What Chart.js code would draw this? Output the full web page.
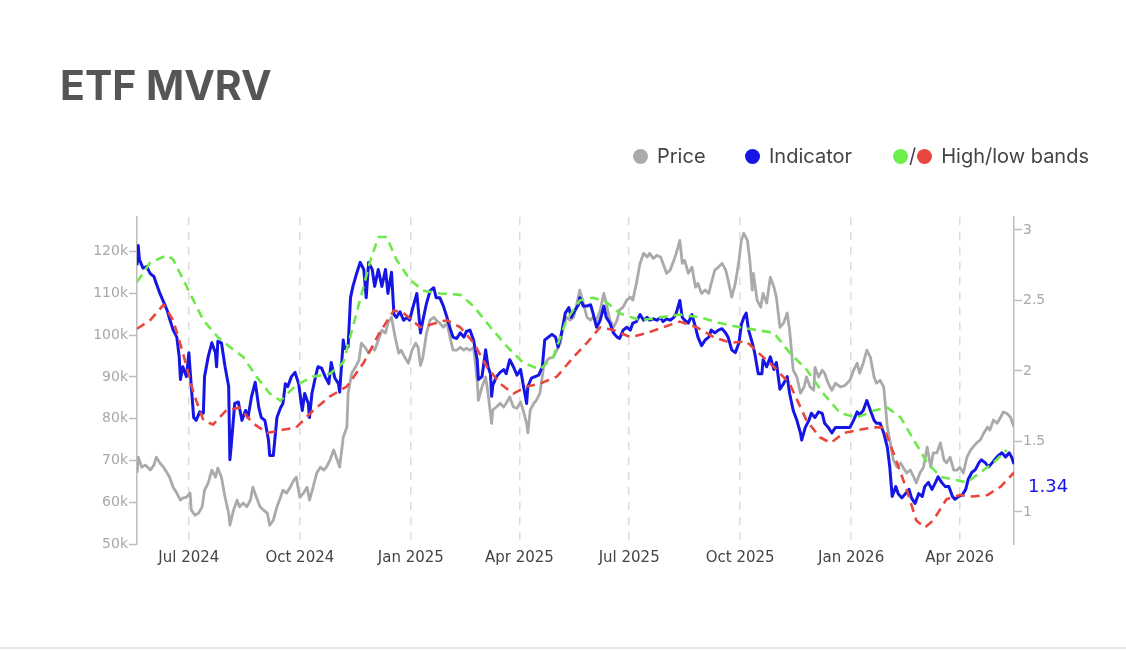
<!DOCTYPE html>
<html>
<head>
<meta charset="utf-8">
<title>ETF MVRV</title>
<script src="https://cdn.jsdelivr.net/npm/chart.js@4.4.1/dist/chart.umd.min.js"></script>
<style>
  html, body { margin: 0; padding: 0; background: #fff; }
  #wrap { position: relative; width: 1126px; height: 650px; overflow: hidden; background: #fff; }
  #title { position: absolute; left: 60px; top: 65px; font: 700 41px/41px Inter, sans-serif; color: #555; white-space: nowrap; }
  .leg { position: absolute; top: 144px; height: 24px; display: flex; align-items: center; font: 400 20px/24px Inter, sans-serif; color: #444; white-space: nowrap; }
  .dot { display: inline-block; width: 15px; height: 15px; border-radius: 50%; }
  .sep { margin: 0 1px; }
  #chart { position: absolute; left: 0; top: 0; }
  #bottomline { position: absolute; left: 0; top: 647px; width: 1126px; height: 2px; background: #e6e6e6; }
</style>
</head>
<body>
<div id="wrap">
  <canvas id="chart" width="1126" height="650"></canvas>
  <div id="title">ETF MVRV</div>
  <div class="leg" style="left:633px"><span class="dot" style="background:#aaaaaa"></span><span style="margin-left:9px">Price</span></div>
  <div class="leg" style="left:745px"><span class="dot" style="background:#1515e6"></span><span style="margin-left:9px">Indicator</span></div>
  <div class="leg" style="left:893px"><span class="dot" style="background:#6ef04c"></span><span class="sep">/</span><span class="dot" style="background:#e8473d"></span><span style="margin-left:9px">High/low bands</span></div>
  <div id="bottomline"></div>
</div>
<script>
// x values are days since START_DATE
const START_DATE = '2024-05-19';
const monthTickDates = ['2024-07-01','2024-10-01','2025-01-01','2025-04-01','2025-07-01','2025-10-01','2026-01-01','2026-04-01'];
const monthTickLabels = ['Jul 2024','Oct 2024','Jan 2025','Apr 2025','Jul 2025','Oct 2025','Jan 2026','Apr 2026'];
const priceTicks = [50, 60, 70, 80, 90, 100, 110, 120];   // thousands USD
const mvrvTicks = [1, 1.5, 2, 2.5, 3];

// Price (thousands USD), left axis
const priceDays = [0,1,4,7,11,14,16,19,22,25,27,30,33,36,38,41,44,45,48,51,54,56,59,62,65,67,70,73,76,77,80,83,85,88,91,94,96,99,102,105,108,110,113,116,119,121,124,127,130,132,135,138,141,143,146,149,152,155,157,160,163,166,168,171,174,175,178,181,184,186,189,192,195,197,200,203,206,208,211,214,217,219,222,225,228,231,233,235,237,240,243,246,248,251,254,257,260,262,265,268,271,273,276,279,282,283,286,289,291,294,295,298,301,304,306,309,312,315,318,320,323,324,326,329,331,334,337,340,342,345,348,351,353,356,359,362,364,367,370,373,376,378,381,384,387,389,392,395,398,400,403,406,409,411,414,417,420,423,425,428,431,434,436,439,442,445,447,450,452,454,457,460,463,465,468,471,474,476,479,482,485,488,490,493,496,499,501,503,506,508,510,511,514,517,519,522,525,528,530,533,536,539,541,544,547,550,553,555,558,561,562,565,568,570,573,576,579,583,587,591,594,597,599,602,605,608,611,613,616,619,622,624,627,630,633,635,638,641,644,646,649,652,655,658,660,663,666,669,671,674,677,680,682,685,688,691,693,696,699,702,705,707,710,713,716,718,721,724,727];
const priceK = [67.0,70.8,68.4,68.9,67.7,68.9,70.8,69.4,68.4,67.0,66.0,63.6,62.2,60.5,61.0,61.2,62.2,58.1,56.9,57.4,58.9,62.9,64.6,67.7,66.0,68.2,66.0,61.2,57.4,54.5,58.1,60.5,58.9,59.8,58.9,60.5,63.6,61.2,58.9,58.1,57.4,54.5,55.7,58.9,61.2,62.9,62.2,63.6,65.3,66.0,61.2,62.2,63.6,60.5,63.6,67.0,68.4,67.7,68.4,70.1,72.5,70.1,68.4,75.6,78.0,86.1,90.9,92.3,94.0,98.1,97.1,95.7,97.1,96.4,98.8,101.2,100.5,102.9,104.3,99.5,95.7,96.4,94.7,93.3,96.4,98.1,97.1,92.8,94.7,100.5,103.6,104.3,103.6,102.9,101.9,102.9,98.8,96.4,96.4,97.1,96.4,96.9,96.4,97.1,89.2,84.4,87.6,90.0,86.1,78.9,82.1,82.8,83.7,82.8,83.7,85.2,82.8,82.5,84.0,82.1,78.9,76.6,82.1,83.7,84.4,86.1,92.3,94.0,94.5,94.7,96.4,98.1,101.9,104.3,103.6,104.3,106.7,110.8,107.7,104.3,103.6,104.3,103.6,106.0,110.0,107.7,103.6,101.9,103.6,106.0,106.7,108.4,109.1,108.4,112.4,117.2,119.6,118.7,119.6,118.4,119.1,118.7,117.2,114.8,115.6,117.9,119.6,122.7,117.2,117.9,114.8,116.3,111.5,112.4,110.0,110.8,110.0,112.4,115.6,116.3,117.2,115.6,113.2,109.1,112.4,117.9,122.7,124.4,122.7,117.9,110.8,114.8,108.4,106.7,110.0,107.7,113.9,111.5,109.1,101.9,102.9,105.3,101.2,91.6,90.0,86.1,87.6,90.0,87.6,86.8,92.3,90.0,91.6,90.9,88.5,86.8,88.5,87.6,88.0,89.2,91.6,93.3,90.9,93.3,96.4,94.7,90.0,88.5,89.2,87.6,78.0,74.9,70.1,68.4,69.4,68.4,67.0,67.7,66.0,64.6,67.0,68.4,73.2,68.4,71.8,71.8,74.2,70.1,69.4,70.8,67.7,67.7,68.4,67.0,70.8,72.5,73.2,74.2,74.9,76.6,78.0,77.3,79.7,78.9,80.4,81.6,81.3,80.4,78.0];

// Indicator (ETF MVRV), right axis
const indicatorDays = [0,1,2,5,8,11,14,16,19,22,25,27,30,33,35,36,38,41,43,45,47,49,52,55,56,59,62,65,66,67,70,73,76,77,78,81,84,87,90,92,95,98,101,103,106,109,110,113,116,119,121,123,125,128,131,134,137,139,142,143,145,148,150,153,156,159,161,164,167,168,171,172,175,177,179,182,185,188,190,192,195,197,200,203,206,208,211,213,215,218,221,224,226,229,232,235,237,240,243,246,248,251,254,257,260,262,265,268,271,273,276,279,282,283,286,289,291,293,294,295,298,301,304,306,309,312,315,318,320,323,324,327,330,333,336,338,341,344,347,349,352,355,358,360,363,366,367,370,373,376,378,381,384,387,389,392,395,398,400,403,406,409,411,414,417,420,423,425,428,431,434,436,439,442,445,447,450,452,454,457,460,463,465,468,471,474,476,479,482,485,488,490,493,496,499,501,503,505,507,510,512,515,518,519,522,525,528,530,533,536,539,541,544,547,550,551,554,557,559,562,565,568,570,573,576,579,583,587,591,594,597,599,602,605,608,611,613,616,619,622,624,626,629,631,634,637,640,642,645,648,651,653,656,659,662,664,667,670,673,676,678,681,684,687,689,692,695,698,700,703,706,709,711,714,717,720,723,725,727];
const indicatorValues = [2.75,2.89,2.79,2.73,2.74,2.69,2.67,2.62,2.55,2.49,2.43,2.37,2.29,2.24,2.10,1.94,2.03,1.96,2.13,1.89,1.67,1.65,1.71,1.70,1.96,2.10,2.20,2.13,2.03,2.21,2.20,2.03,1.89,1.37,1.46,1.77,1.78,1.65,1.72,1.67,1.82,1.92,1.74,1.67,1.65,1.51,1.40,1.40,1.67,1.74,1.77,1.91,1.89,1.96,1.99,1.91,1.72,1.84,1.77,1.67,1.84,1.96,2.03,2.02,1.96,1.91,2.06,1.95,1.91,1.85,2.22,2.16,2.17,2.52,2.60,2.69,2.77,2.72,2.52,2.77,2.72,2.60,2.72,2.60,2.72,2.55,2.70,2.40,2.38,2.42,2.36,2.38,2.36,2.46,2.55,2.27,2.36,2.48,2.57,2.59,2.52,2.52,2.46,2.38,2.29,2.24,2.23,2.27,2.24,2.28,2.29,2.22,2.08,1.94,1.96,2.15,2.03,1.98,1.82,1.90,1.96,1.99,2.01,1.98,2.08,2.03,1.97,2.01,1.91,1.77,1.89,1.95,1.96,1.97,2.03,2.22,2.24,2.26,2.24,2.17,2.27,2.41,2.45,2.38,2.43,2.47,2.52,2.46,2.46,2.47,2.41,2.31,2.36,2.46,2.38,2.34,2.27,2.24,2.23,2.29,2.31,2.29,2.34,2.35,2.40,2.36,2.38,2.36,2.37,2.36,2.38,2.35,2.37,2.36,2.38,2.41,2.50,2.38,2.36,2.34,2.40,2.31,2.24,2.18,2.22,2.24,2.29,2.27,2.29,2.30,2.27,2.24,2.15,2.13,2.20,2.33,2.38,2.41,2.29,2.20,2.13,1.98,1.98,2.08,2.03,2.10,2.01,2.06,1.87,1.91,1.96,1.84,1.72,1.65,1.56,1.51,1.60,1.65,1.70,1.67,1.71,1.70,1.63,1.60,1.56,1.60,1.60,1.60,1.60,1.65,1.71,1.69,1.72,1.79,1.72,1.65,1.63,1.63,1.56,1.46,1.32,1.11,1.18,1.13,1.10,1.13,1.16,1.10,1.06,1.13,1.11,1.18,1.21,1.16,1.21,1.25,1.21,1.18,1.18,1.11,1.09,1.11,1.12,1.16,1.23,1.28,1.30,1.35,1.37,1.35,1.32,1.35,1.37,1.40,1.42,1.39,1.42,1.39,1.34];

// High band, right axis
const highDays = [0,11,25,30,44,55,67,77,88,99,110,119,132,146,160,171,182,193,200,207,215,226,237,251,268,279,293,307,320,334,345,356,367,378,389,400,417,434,450,467,483,500,528,541,555,569,583,597,611,622,633,644,655,666,677,688,699,710,721];
const highValues = [2.63,2.77,2.82,2.79,2.55,2.36,2.24,2.17,2.10,1.96,1.84,1.79,1.90,1.96,1.98,2.06,2.41,2.77,2.95,2.95,2.79,2.65,2.57,2.55,2.54,2.46,2.31,2.17,2.06,2.01,2.10,2.36,2.50,2.52,2.49,2.41,2.36,2.38,2.40,2.38,2.34,2.31,2.27,2.13,2.01,1.84,1.70,1.67,1.72,1.74,1.67,1.51,1.35,1.25,1.23,1.21,1.28,1.35,1.44];

// Low band, right axis
const lowDays = [0,11,22,30,38,47,55,63,74,85,96,108,119,132,146,160,174,188,201,213,221,235,248,257,268,279,290,301,312,323,334,348,362,373,384,395,409,423,436,450,464,478,492,505,515,528,541,555,566,575,586,597,611,619,627,638,646,653,660,671,682,693,705,716,727];
const lowValues = [2.30,2.36,2.47,2.36,2.13,1.84,1.65,1.62,1.72,1.74,1.63,1.56,1.58,1.60,1.72,1.82,1.89,2.06,2.27,2.43,2.41,2.31,2.34,2.36,2.31,2.20,2.03,1.91,1.84,1.89,1.91,1.96,2.10,2.20,2.31,2.29,2.24,2.27,2.31,2.35,2.31,2.24,2.20,2.21,2.13,2.03,1.91,1.65,1.53,1.49,1.56,1.58,1.60,1.60,1.42,1.16,0.94,0.89,0.94,1.09,1.12,1.11,1.12,1.18,1.28];

const DAY_MS = 86400000;
const dayOf = d => Math.round((Date.parse(d) - Date.parse(START_DATE)) / DAY_MS);
const monthTickDays = monthTickDates.map(dayOf);
const pts = (xs, ys) => xs.map((x, i) => ({ x: x, y: ys[i] }));

Chart.defaults.font.family = '"DejaVu Sans", Verdana, sans-serif';

const lastLabel = {
  id: 'lastLabel',
  afterDatasetsDraw(chart) {
    const ys = chart.scales.yr;
    const last = indicatorValues[indicatorValues.length - 1];
    const ctx = chart.ctx;
    ctx.save();
    ctx.font = '18px "DejaVu Sans", sans-serif';
    ctx.fillStyle = '#1515e6';
    ctx.textAlign = 'left';
    ctx.textBaseline = 'middle';
    ctx.fillText(last.toFixed(2), chart.chartArea.right + 14, ys.getPixelForValue(last) + 23);
    ctx.restore();
  }
};

new Chart(document.getElementById('chart'), {
  type: 'line',
  data: {
    datasets: [
      { label: 'High band', data: pts(highDays, highValues), yAxisID: 'yr', borderColor: '#6ee84a', borderWidth: 2.6, borderDash: [9, 6], order: 0 },
      { label: 'Low band', data: pts(lowDays, lowValues), yAxisID: 'yr', borderColor: '#e8473d', borderWidth: 2.6, borderDash: [9, 6], order: 1 },
      { label: 'Indicator', data: pts(indicatorDays, indicatorValues), yAxisID: 'yr', borderColor: '#1515e6', borderWidth: 3, order: 2 },
      { label: 'Price', data: pts(priceDays, priceK), yAxisID: 'yl', borderColor: '#aaaaaa', borderWidth: 2.8, order: 3 }
    ]
  },
  options: {
    responsive: false,
    animation: false,
    events: [],
    elements: { point: { radius: 0 }, line: { tension: 0, borderJoinStyle: 'round' } },
    layout: { padding: { left: 0, right: 0, top: 217, bottom: 0 } },
    plugins: { legend: { display: false }, tooltip: { enabled: false }, title: { display: false } },
    scales: {
      x: {
        type: 'linear',
        min: 0,
        max: 727,
        afterBuildTicks: s => { s.ticks = monthTickDays.map(v => ({ value: v })); },
        afterFit: s => { s.height = 106; },
        ticks: {
          autoSkip: false,
          maxRotation: 0,
          padding: 5,
          color: '#444',
          font: { size: 15 },
          callback: v => { const i = monthTickDays.indexOf(v); return i >= 0 ? monthTickLabels[i] : ''; }
        },
        grid: { display: true, drawOnChartArea: true, drawTicks: false, color: '#dcdcdc', lineWidth: 1.5 },
        border: { display: false, dash: [8, 7] }
      },
      yl: {
        type: 'linear',
        position: 'left',
        min: 50,
        max: 128.3,
        afterBuildTicks: s => { s.ticks = priceTicks.map(v => ({ value: v })); },
        afterFit: s => { s.width = 137; },
        ticks: { color: '#a8a8a8', font: { size: 14 }, padding: 1, callback: v => v + 'k' },
        grid: { display: true, drawOnChartArea: false, drawTicks: true, tickLength: 8, tickColor: '#bdbdbd', tickWidth: 1.5 },
        border: { display: true, color: '#bdbdbd', width: 1.5 }
      },
      yr: {
        type: 'linear',
        position: 'right',
        min: 0.773,
        max: 3.092,
        afterBuildTicks: s => { s.ticks = mvrvTicks.map(v => ({ value: v })); },
        afterFit: s => { s.width = 112; },
        ticks: { color: '#a8a8a8', font: { size: 14 }, padding: 1, callback: v => String(v) },
        grid: { display: true, drawOnChartArea: false, drawTicks: true, tickLength: 8, tickColor: '#bdbdbd', tickWidth: 1.5 },
        border: { display: true, color: '#bdbdbd', width: 1.5 }
      }
    }
  },
  plugins: [lastLabel]
});
</script>
</body>
</html>
